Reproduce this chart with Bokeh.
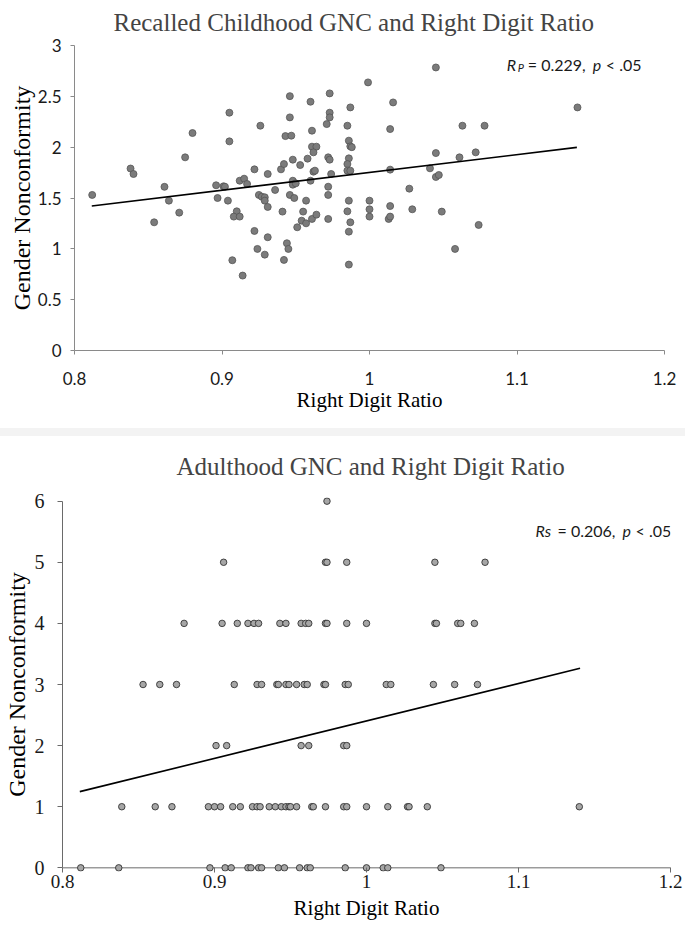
from bokeh.plotting import figure
from bokeh.models import Range1d, FixedTicker, CustomJSTickFormatter, Label, Div, Span
from bokeh.embed import file_html
from bokeh.resources import INLINE

# ---------------- data ----------------
title_top = "Recalled Childhood GNC and Right Digit Ratio"
title_bottom = "Adulthood GNC and Right Digit Ratio"
x_label = "Right Digit Ratio"
y_label = "Gender Nonconformity"

x_ticks = [0.8, 0.9, 1.0, 1.1, 1.2]
x_tick_labels = ["0.8", "0.9", "1", "1.1", "1.2"]
top_y_ticks = [0, 0.5, 1, 1.5, 2, 2.5, 3]
top_y_tick_labels = ["0", "0.5", "1", "1.5", "2", "2.5", "3"]
bottom_y_ticks = [0, 1, 2, 3, 4, 5, 6]
bottom_y_tick_labels = ["0", "1", "2", "3", "4", "5", "6"]

# Recalled childhood GNC (top)
child_x = [0.812, 0.838, 0.840, 0.880, 0.875, 0.861, 0.864, 0.854, 0.871, 0.905,
           0.905, 0.896, 0.901, 0.902, 0.897, 0.904, 0.910, 0.908, 0.912, 0.912,
           0.915, 0.917, 0.907, 0.914, 0.922, 0.926, 0.931, 0.925, 0.927, 0.929,
           0.929, 0.931, 0.922, 0.924, 0.929, 0.931, 0.936, 0.940, 0.942, 0.943,
           0.947, 0.946, 0.946, 0.948, 0.948, 0.948, 0.950, 0.946, 0.949, 0.941,
           0.944, 0.945, 0.942, 0.951, 0.953, 0.957, 0.955, 0.954, 0.957, 0.958,
           0.960, 0.961, 0.961, 0.964, 0.962, 0.962, 0.963, 0.960, 0.961, 0.964,
           0.971, 0.973, 0.973, 0.973, 0.972, 0.973, 0.974, 0.972, 0.972, 0.972,
           0.985, 0.987, 0.986, 0.987, 0.988, 0.986, 0.985, 0.985, 0.987, 0.986,
           0.985, 0.987, 0.986, 0.986, 0.999, 1.000, 1.000, 1.000,
           1.045, 1.016, 1.014, 1.014, 1.014, 1.013, 1.014, 1.027, 1.029, 1.041,
           1.045, 1.045, 1.047, 1.049, 1.058, 1.061, 1.063, 1.072, 1.074, 1.078,
           1.141]
child_y = [1.53, 1.79, 1.736, 2.139, 1.90, 1.61, 1.474, 1.261, 1.356, 2.339,
           2.057, 1.625, 1.615, 1.611, 1.50, 1.474, 1.369, 1.317, 1.317, 1.670,
           1.690, 1.638, 0.888, 0.737, 1.782, 2.211, 1.736, 1.530, 1.513, 1.507,
           1.474, 1.412, 1.176, 0.999, 0.943, 1.114, 1.579, 1.782, 1.834, 2.109,
           2.113, 2.502, 2.293, 1.877, 1.670, 1.631, 1.644, 1.530, 1.500, 1.366,
           1.055, 0.999, 0.891, 1.212, 1.824, 1.474, 1.366, 1.277, 1.251, 1.887,
           2.447, 2.162, 2.005, 2.005, 1.949, 1.759, 1.769, 1.670, 1.294, 1.336,
           2.227, 2.339, 2.293, 2.529, 1.90, 1.877, 1.736, 1.611, 1.530, 1.294,
           2.211, 2.391, 2.064, 2.008, 2.000, 1.89, 1.834, 1.769, 1.769, 1.474,
           1.369, 1.261, 1.169, 0.845, 2.637, 1.474, 1.389, 1.317,
           2.784, 2.44, 2.178, 1.779, 1.421, 1.294, 1.317, 1.592, 1.389, 1.792,
           1.942, 1.707, 1.726, 1.366, 0.999, 1.90, 2.211, 1.949, 1.235, 2.211,
           2.391]
child_fit_x = [0.8117, 1.1406]
child_fit_y = [1.4215, 1.998]

# Adulthood GNC (bottom), right digit ratio grouped by score
adult_x_score0 = [0.812, 0.837, 0.897, 0.907, 0.911, 0.922, 0.924, 0.929, 0.931,
                  0.942, 0.946, 0.956, 0.961, 0.963, 0.986, 1.000, 1.011, 1.014, 1.049]
adult_x_score1 = [0.839, 0.861, 0.872, 0.896, 0.900, 0.904, 0.912, 0.917, 0.925,
                  0.928, 0.930, 0.936, 0.940, 0.944, 0.947, 0.949, 0.950, 0.954,
                  0.964, 0.965, 0.973, 0.985, 0.987, 1.000, 1.014, 1.027, 1.028,
                  1.040, 1.140]
adult_x_score2 = [0.901, 0.908, 0.957, 0.962, 0.985, 0.987]
adult_x_score3 = [0.853, 0.864, 0.875, 0.913, 0.928, 0.931, 0.941, 0.942, 0.947,
                  0.949, 0.954, 0.959, 0.961, 0.972, 0.973, 0.986, 0.988, 1.013,
                  1.016, 1.044, 1.058, 1.073]
adult_x_score4 = [0.880, 0.905, 0.915, 0.922, 0.926, 0.929, 0.943, 0.947, 0.957,
                  0.960, 0.962, 0.973, 0.974, 0.987, 1.000, 1.045, 1.046, 1.060,
                  1.062, 1.071]
adult_x_score5 = [0.906, 0.973, 0.974, 0.987, 1.045, 1.078]
adult_x_score6 = [0.974]
adult_fit_x = [0.8114, 1.1405]
adult_fit_y = [1.247, 3.265]

adult_groups = [adult_x_score0, adult_x_score1, adult_x_score2, adult_x_score3,
                adult_x_score4, adult_x_score5, adult_x_score6]
adult_x = [v for grp in adult_groups for v in grp]
adult_y = [score for score, grp in enumerate(adult_groups) for _ in grp]

note_top = [("R", "italic"), ("P", "italic"), ("= 0.229,", "normal"), ("p", "italic"), ("< .05", "normal")]
note_bottom = [("Rs", "italic"), ("= 0.206,", "normal"), ("p", "italic"), ("< .05", "normal")]

SERIF = "Liberation Serif"
SANS = "Lato"
W = 685


def tick_fmt(ticks, labels):
    return CustomJSTickFormatter(
        args=dict(tv=ticks, tl=labels),
        code="const i = tv.findIndex(t => Math.abs(t - tick) < 1e-9); return i >= 0 ? tl[i] : String(tick);")


def style_axes(p, axis_color, tick_font, tick_size, tick_out):
    p.outline_line_color = None
    p.xgrid.visible = False
    p.ygrid.visible = False
    for ax in (p.xaxis[0], p.yaxis[0]):
        ax.axis_line_color = axis_color
        ax.axis_line_width = 1
        ax.major_tick_line_color = axis_color
        ax.major_tick_out = tick_out
        ax.major_tick_in = 0
        ax.minor_tick_line_color = None
        ax.major_label_text_font = tick_font
        ax.major_label_text_font_size = tick_size
        ax.major_label_text_color = "#1a1a1a"
        ax.axis_label_text_font = SERIF
        ax.axis_label_text_font_style = "normal"
        ax.axis_label_text_color = "#000000"


# ---------------- top chart ----------------
p1 = figure(width=W, height=428, output_backend="svg", toolbar_location=None,
            x_range=Range1d(0.8, 1.2), y_range=Range1d(0, 3),
            min_border_left=74, min_border_right=21, min_border_top=45, min_border_bottom=78)
p1.title.text = title_top
p1.title.text_font = SERIF
p1.title.text_font_size = "25px"
p1.title.text_font_style = "normal"
p1.title.align = "left"
p1.title.vertical_align = "top"
p1.title.offset = 39
p1.title.standoff = 15
style_axes(p1, "#8a8a8a", SANS, "17px", 4)
p1.xaxis[0].ticker = FixedTicker(ticks=x_ticks)
p1.xaxis[0].formatter = tick_fmt(x_ticks, x_tick_labels)
p1.yaxis[0].ticker = FixedTicker(ticks=top_y_ticks)
p1.yaxis[0].formatter = tick_fmt(top_y_ticks, top_y_tick_labels)
p1.xaxis[0].axis_label = x_label
p1.yaxis[0].axis_label = y_label
p1.xaxis[0].axis_label_text_font_size = "21px"
p1.yaxis[0].axis_label_text_font_size = "24px"
p1.xaxis[0].major_label_standoff = 17
p1.xaxis[0].axis_label_standoff = 0
p1.yaxis[0].major_label_standoff = 9
p1.yaxis[0].axis_label_standoff = 0

p1.scatter(child_x, child_y, size=7, fill_color="#7b7b7b", line_color="#565656", line_width=0.8)
p1.line(child_fit_x, child_fit_y, line_color="#000000", line_width=1.6)

offs_top = [0, 11, 21, 86, 99]
for (txt, style), dx in zip(note_top, offs_top):
    sub = txt == "P"
    p1.add_layout(Label(x=1.0931, y=2.816, x_offset=dx, y_offset=-3 if sub else 0, text=txt,
                        text_font=SANS, text_font_size="11px" if sub else "16px",
                        text_font_style=style, text_baseline="middle", text_align="left",
                        text_color="#1a1a1a"))

# ---------------- separator ----------------
band = Div(width=W, height=8, margin=0, styles={"background-color": "#f3f3f3"})

# ---------------- bottom chart ----------------
p2 = figure(width=W, height=493, output_backend="svg", toolbar_location=None,
            x_range=Range1d(0.8, 1.2), y_range=Range1d(-0.06, 6.06),
            min_border_left=62, min_border_right=15, min_border_top=61, min_border_bottom=58)
p2.title.text = title_bottom
p2.title.text_font = SERIF
p2.title.text_font_size = "25px"
p2.title.text_font_style = "normal"
p2.title.align = "left"
p2.title.vertical_align = "top"
p2.title.offset = 114
p2.title.standoff = 31
style_axes(p2, "#6a6a6a", SERIF, "19px", 1)
p2.yaxis[0].major_tick_out = 5
p2.yaxis[0].major_label_text_font_size = "20px"
p2.xaxis[0].axis_line_color = None
p2.xaxis[0].major_tick_in = 4
p2.xaxis[0].ticker = FixedTicker(ticks=x_ticks)
p2.xaxis[0].formatter = tick_fmt(x_ticks, x_tick_labels)
p2.yaxis[0].ticker = FixedTicker(ticks=bottom_y_ticks)
p2.yaxis[0].formatter = tick_fmt(bottom_y_ticks, bottom_y_tick_labels)
p2.yaxis[0].bounds = (0, 6)
p2.xaxis[0].axis_label = x_label
p2.yaxis[0].axis_label = y_label
p2.xaxis[0].axis_label_text_font_size = "21px"
p2.yaxis[0].axis_label_text_font_size = "24px"
p2.xaxis[0].major_label_standoff = 2
p2.xaxis[0].axis_label_standoff = 5
p2.yaxis[0].major_label_standoff = 13
p2.yaxis[0].axis_label_standoff = 2
p2.add_layout(Span(location=0, dimension="width", line_color="#6a6a6a", line_width=1, level="underlay"))

p2.scatter(adult_x, adult_y, size=6.5, fill_color="#a6a6a6", line_color="#333333", line_width=0.9)
p2.line(adult_fit_x, adult_fit_y, line_color="#000000", line_width=1.6)

offs_bottom = [0, 22, 87, 100]
for (txt, style), dx in zip(note_bottom, offs_bottom):
    p2.add_layout(Label(x=1.1112, y=5.52, x_offset=dx, text=txt,
                        text_font=SANS, text_font_size="16px",
                        text_font_style=style, text_baseline="middle", text_align="left",
                        text_color="#1a1a1a"))

open("out.html", "w").write(file_html([p1, band, p2], INLINE))
